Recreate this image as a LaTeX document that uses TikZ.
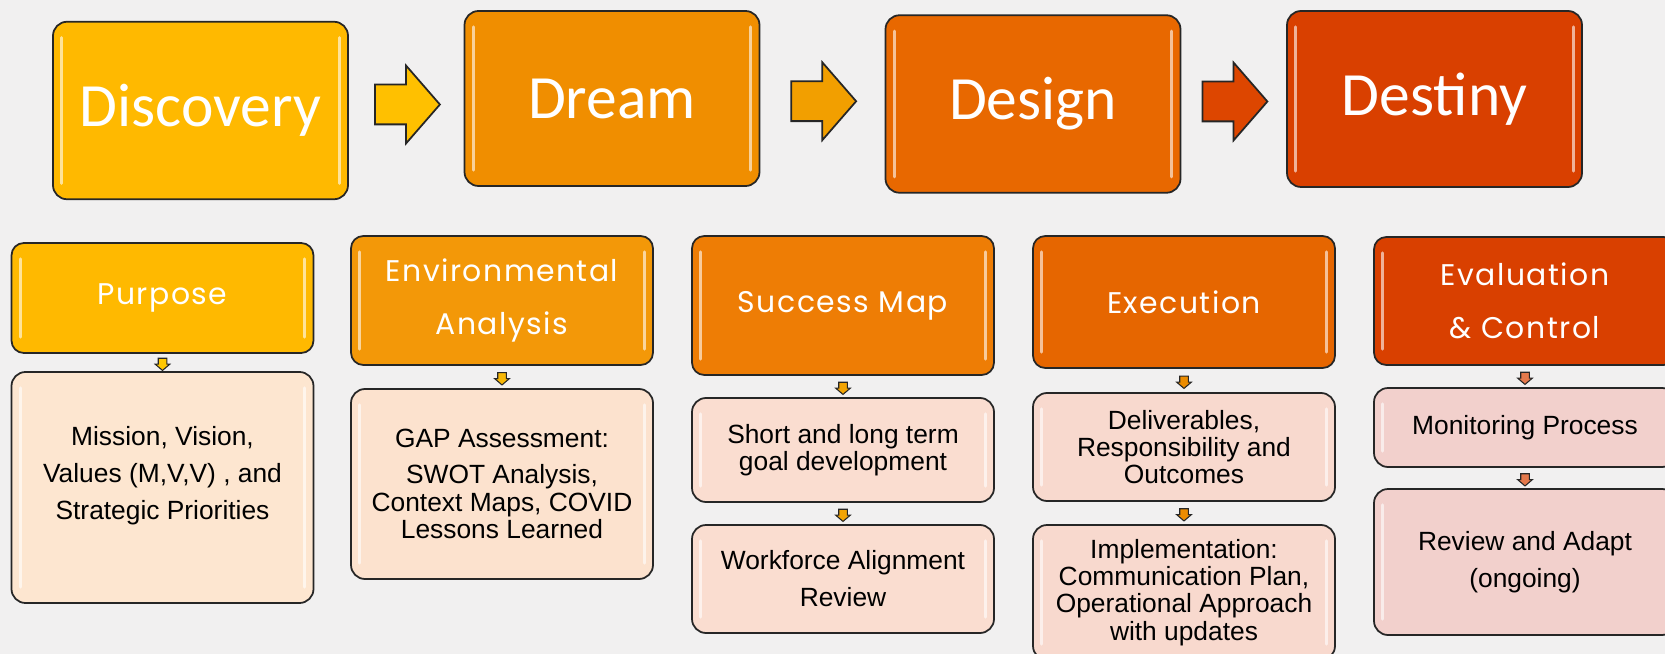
\documentclass[tikz,border=0pt]{standalone}
\usepackage{fontspec}
\setmainfont{Liberation Sans}
\newfontfamily\phasefont{Carlito}
\newfontfamily\stagefont[LetterSpace=5]{Poppins}
\usetikzlibrary{shapes.arrows,calc}

\definecolor{bgfill}{RGB}{241,240,240}
\definecolor{discfill}{RGB}{255,185,0}
\definecolor{dreamfill}{RGB}{240,142,0}
\definecolor{designfill}{RGB}{232,104,0}
\definecolor{destfill}{RGB}{217,64,0}
\definecolor{envfill}{RGB}{243,152,8}
\definecolor{succfill}{RGB}{238,125,5}
\definecolor{execfill}{RGB}{230,102,0}
\definecolor{missfill}{RGB}{253,230,208}
\definecolor{gapfill}{RGB}{252,226,206}
\definecolor{goalfill}{RGB}{250,221,208}
\definecolor{delivfill}{RGB}{248,217,206}
\definecolor{monitfill}{RGB}{242,208,204}

\begin{document}
\begin{tikzpicture}[
        gloss/.style={path picture={
            \draw[white, opacity=.6, line width=1.6pt, line cap=round]
              ([xshift=5pt,yshift=-9pt]path picture bounding box.north west) --
              ([xshift=5pt,yshift=9pt]path picture bounding box.south west)
              ([xshift=-5pt,yshift=-9pt]path picture bounding box.north east) --
              ([xshift=-5pt,yshift=9pt]path picture bounding box.south east);}},
        phase/.style={rectangle, draw=black!85, line width=1pt, rounded corners=8pt, minimum width=5.9cm, minimum height=3.55cm, text=white, font=\phasefont\fontsize{35}{40}\selectfont, gloss},
        stage/.style={rectangle, draw=black!85, line width=1pt, rounded corners=7pt, minimum width=6.04cm, text=white, align=center, font=\stagefont\fontsize{17}{30}\selectfont, gloss},
        item/.style={rectangle, draw=black!85, line width=1pt, rounded corners=8pt, minimum width=6.04cm, align=center, font=\fontsize{15}{21}\selectfont, gloss},
        tight/.style={font=\fontsize{15}{15.5}\selectfont},
        bigarrow/.style={single arrow, draw=black!85, line width=1pt, inner xsep=0pt, inner ysep=0.38cm, minimum height=1.3cm, single arrow head extend=0.38cm, single arrow tip angle=98, xshift=-0.15cm},
        tinyarrow/.style={single arrow, shape border rotate=270, draw=black!85, line width=0.6pt, inner sep=0.075cm, minimum height=0.24cm, single arrow head extend=0.06cm, single arrow tip angle=99}
    ]
        \fill[bgfill] (0,0) rectangle (33.3,-13.08);
        \useasboundingbox (0,0) rectangle (33.3,-13.08);

        % the four D phases
        \node[phase, fill=discfill] (disc) at (4.01,-2.21) {Discovery};
        \node[phase, fill=dreamfill, minimum height=3.5cm] (dream) at (12.24,-1.97) {Dream};
        \node[phase, fill=designfill] (design) at (20.66,-2.08) {Design};
        \node[phase, fill=destfill, minimum height=3.52cm] (dest) at (28.69,-1.98) {Destiny};

        \node[bigarrow, fill=discfill!90!yellow] at ($(disc.east)!0.5!(dream.west)$) {};
        \node[bigarrow, fill=dreamfill!85!yellow] at ($(dream.east)!0.5!(design.west)$) {};
        \node[bigarrow, fill=destfill!90!orange] at ($(design.east)!0.5!(dest.west)$) {};

        % planning stages
        \node[stage, fill=discfill, minimum height=2.2cm] (purp) at (3.25,-5.96) {Purpose};
        \node[stage, fill=envfill, minimum height=2.58cm] (env) at (10.04,-6.01) {Environmental\\Analysis};
        \node[stage, fill=succfill, minimum height=2.78cm] (succ) at (16.86,-6.11) {Success Map};
        \node[stage, fill=execfill, minimum height=2.64cm] (exec) at (23.68,-6.04) {Execution};
        \node[stage, fill=destfill, minimum height=2.56cm] (eval) at (30.5,-6.02) {Evaluation\\\& Control};

        % what each stage covers
        \node[item, fill=missfill, minimum height=4.62cm] (miss) at (3.25,-9.75) {Mission, Vision,\\Values (M,V,V) , and\\Strategic Priorities\\[-4pt]\mbox{}};
        \node[item, fill=gapfill, minimum height=3.8cm, tight] (gap) at (10.04,-9.68) {GAP Assessment:\\[5pt]SWOT Analysis,\\Context Maps, COVID\\Lessons Learned};
        \node[item, fill=goalfill, minimum height=2.08cm, tight] (goals) at (16.86,-9.0) {Short and long term\\goal development};
        \node[item, fill=goalfill, minimum height=2.16cm] (work) at (16.86,-11.58) {Workforce Alignment\\Review};
        \node[item, fill=delivfill, minimum height=2.16cm, tight] (deliv) at (23.68,-8.94) {Deliverables,\\Responsibility and\\Outcomes};
        \node[item, fill=delivfill, minimum height=2.7cm, tight] (impl) at (23.68,-11.85) {Implementation:\\Communication Plan,\\Operational Approach\\with updates};
        \node[item, fill=monitfill, minimum height=1.58cm] (monit) at (30.5,-8.55) {Monitoring Process};
        \node[item, fill=monitfill, minimum height=2.92cm] (rev) at (30.5,-11.24) {Review and Adapt\\(ongoing)};

        \node[tinyarrow, fill=discfill!80!yellow] at ($(purp.south)!0.5!(miss.north)$) {};
        \node[tinyarrow, fill=envfill!70!yellow] at ($(env.south)!0.5!(gap.north)$) {};
        \node[tinyarrow, fill=succfill!70!yellow] at ($(succ.south)!0.5!(goals.north)$) {};
        \node[tinyarrow, fill=succfill!70!yellow] at ($(goals.south)!0.5!(work.north)$) {};
        \node[tinyarrow, fill=execfill!75!yellow] at ($(exec.south)!0.5!(deliv.north)$) {};
        \node[tinyarrow, fill=execfill!75!yellow] at ($(deliv.south)!0.5!(impl.north)$) {};
        \node[tinyarrow, fill=destfill!70!white] at ($(eval.south)!0.5!(monit.north)$) {};
        \node[tinyarrow, fill=destfill!70!white] at ($(monit.south)!0.5!(rev.north)$) {};
    \end{tikzpicture}
\end{document}
